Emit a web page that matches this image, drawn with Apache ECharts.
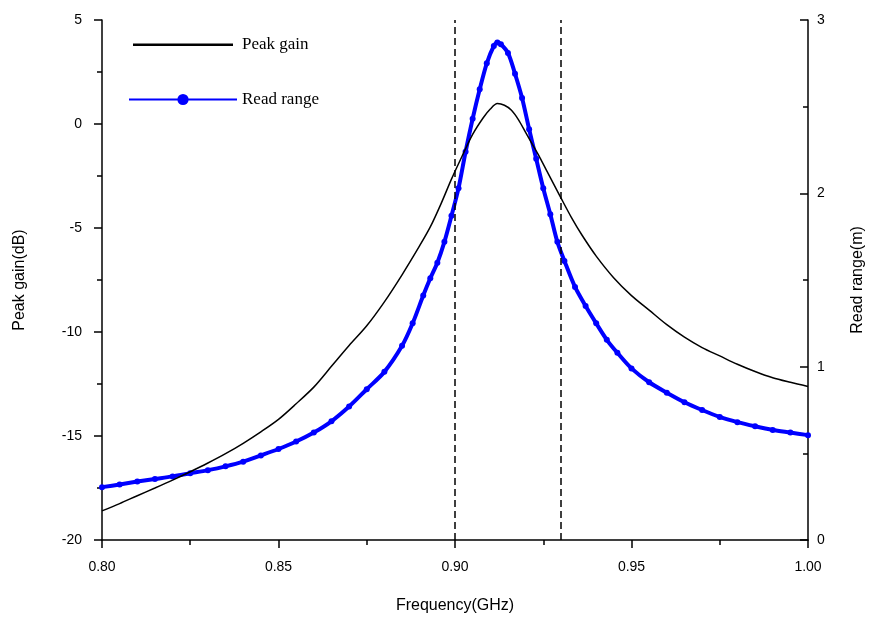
<!DOCTYPE html>
<html>
<head>
<meta charset="utf-8">
<script src="https://cdn.jsdelivr.net/npm/echarts@6/dist/echarts.min.js"></script>
<style>
  html, body { margin: 0; padding: 0; background: #fff; }
  #main { width: 871px; height: 619px; }
</style>
</head>
<body>
<div id="main"></div>
<script>
// peak gain (dB), left axis
const gainFreq = [0.800, 0.805, 0.810, 0.815, 0.820, 0.825, 0.830, 0.835, 0.840, 0.845,
  0.850, 0.855, 0.860, 0.865, 0.870, 0.875, 0.880, 0.885, 0.890, 0.893, 0.896, 0.899,
  0.902, 0.905, 0.908, 0.910, 0.912, 0.914, 0.916, 0.918, 0.920, 0.922, 0.924, 0.926,
  0.928, 0.930, 0.933, 0.936, 0.940, 0.945, 0.950, 0.955, 0.960, 0.965, 0.970, 0.975,
  0.980, 0.985, 0.990, 0.995, 1.000];
const gainValues = [-18.6, -18.25, -17.87, -17.5, -17.12, -16.72, -16.3, -15.85, -15.35, -14.8,
  -14.2, -13.45, -12.65, -11.65, -10.65, -9.7, -8.55, -7.25, -5.85, -4.95, -3.85, -2.65,
  -1.55, -0.5, 0.3, 0.72, 0.98, 0.9, 0.66, 0.2, -0.4, -1.0, -1.6, -2.25,
  -2.9, -3.55, -4.5, -5.35, -6.35, -7.4, -8.25, -8.95, -9.65, -10.25, -10.75, -11.15,
  -11.55, -11.9, -12.2, -12.42, -12.62];

// read range (m), right axis
const rangeFreq = [0.800, 0.805, 0.810, 0.815, 0.820, 0.825, 0.830, 0.835, 0.840, 0.845,
  0.850, 0.855, 0.860, 0.865, 0.870, 0.875, 0.880, 0.885, 0.888, 0.891, 0.893, 0.895,
  0.897, 0.899, 0.901, 0.903, 0.905, 0.907, 0.909, 0.911, 0.912, 0.913, 0.915, 0.917,
  0.919, 0.921, 0.923, 0.925, 0.927, 0.929, 0.931, 0.934, 0.937, 0.940, 0.943, 0.946,
  0.950, 0.955, 0.960, 0.965, 0.970, 0.975, 0.980, 0.985, 0.990, 0.995, 1.000];
const rangeValues = [0.305, 0.32, 0.337, 0.352, 0.367, 0.385, 0.403, 0.425, 0.452, 0.488,
  0.525, 0.568, 0.62, 0.685, 0.77, 0.87, 0.97, 1.12, 1.25, 1.41, 1.51, 1.60,
  1.72, 1.87, 2.03, 2.24, 2.43, 2.60, 2.75, 2.85, 2.87, 2.86, 2.81, 2.69,
  2.55, 2.37, 2.20, 2.03, 1.88, 1.72, 1.61, 1.46, 1.35, 1.25, 1.155, 1.08,
  0.99, 0.91, 0.85, 0.795, 0.75, 0.71, 0.68, 0.656, 0.635, 0.62, 0.605];

// band edges (dashed lines)
const bandEdges = [0.902, 0.930];

const chart = echarts.init(document.getElementById("main"));

const tickFont = { color: "#000", fontFamily: "Liberation Sans", fontSize: 14 };
const axisLine = { show: true, onZero: false, lineStyle: { color: "#000", width: 1.5 } };
// plain line icon for the legend (no marker)
const lineIcon = "path://M0,0M0,6L100,6L100,8.5L0,8.5ZM100,14";

const option = {
  animation: false,
  backgroundColor: "#fff",
  grid: { left: 102, right: 63, top: 20, bottom: 79, outerBoundsMode: "none", containLabel: false },
  legend: {
    orient: "vertical",
    left: 123,
    top: 31,
    itemWidth: 108,
    itemHeight: 14,
    itemGap: 38,
    textStyle: { color: "#000", fontFamily: "Liberation Serif", fontSize: 17 },
    data: [{ name: "Peak gain", icon: lineIcon }, { name: "Read range" }],
  },
  xAxis: {
    type: "value",
    min: 0.8,
    max: 1.0,
    interval: 0.05,
    name: "Frequency(GHz)",
    nameLocation: "middle",
    nameGap: 58,
    nameTextStyle: { color: "#000", fontFamily: "Liberation Sans", fontSize: 16 },
    axisLine: axisLine,
    axisTick: { show: true, length: 8, lineStyle: { color: "#000", width: 1.5 } },
    minorTick: { show: true, splitNumber: 2, length: 5, lineStyle: { color: "#000", width: 1.5 } },
    axisLabel: { ...tickFont, margin: 20, formatter: (v) => v.toFixed(2) },
    splitLine: { show: false },
  },
  yAxis: [
    {
      type: "value",
      min: -20,
      max: 5,
      interval: 5,
      name: "Peak gain(dB)",
      nameLocation: "middle",
      nameGap: 74,
      nameTextStyle: { color: "#000", fontFamily: "Liberation Sans", fontSize: 16 },
      axisLine: axisLine,
      axisTick: { show: true, length: 8, lineStyle: { color: "#000", width: 1.5 } },
      minorTick: { show: true, splitNumber: 2, length: 5, lineStyle: { color: "#000", width: 1.5 } },
      axisLabel: { ...tickFont, margin: 20 },
      splitLine: { show: false },
    },
    {
      type: "value",
      min: 0,
      max: 3,
      interval: 1,
      position: "right",
      name: "Read range(m)",
      nameLocation: "middle",
      nameGap: 42,
      nameRotate: 90,
      nameTextStyle: { color: "#000", fontFamily: "Liberation Sans", fontSize: 16 },
      axisLine: axisLine,
      axisTick: { show: true, inside: true, length: 8, lineStyle: { color: "#000", width: 1.5 } },
      minorTick: { show: true, inside: true, splitNumber: 2, length: 5, lineStyle: { color: "#000", width: 1.5 } },
      axisLabel: { ...tickFont, margin: 9 },
      splitLine: { show: false },
    },
  ],
  series: [
    {
      name: "Peak gain",
      type: "line",
      yAxisIndex: 0,
      data: gainFreq.map((f, i) => [f, gainValues[i]]),
      showSymbol: false,
      symbol: "none",
      smooth: 0.3,
      lineStyle: { color: "#000", width: 1.5 },
      itemStyle: { color: "#000" },
      markLine: {
        silent: true,
        symbol: ["none", "none"],
        label: { show: false },
        lineStyle: { color: "#000", type: [7, 4], width: 1.5 },
        data: bandEdges.map((x) => ({ xAxis: x })),
      },
      z: 3,
    },
    {
      name: "Read range",
      type: "line",
      yAxisIndex: 1,
      data: rangeFreq.map((f, i) => [f, rangeValues[i]]),
      symbol: "circle",
      symbolSize: 6,
      smooth: 0.3,
      lineStyle: { color: "#0000ff", width: 4 },
      itemStyle: { color: "#0000ff" },
      z: 2,
    },
  ],
};

chart.setOption(option);
</script>
</body>
</html>
